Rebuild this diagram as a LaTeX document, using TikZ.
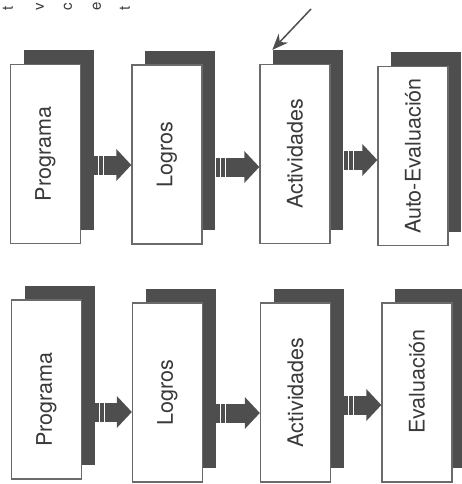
\documentclass[tikz,border=0pt]{standalone}
\usepackage{fontspec}
\setmainfont{TeX Gyre Heros}
\usetikzlibrary{arrows.meta,shadows}

\definecolor{boxline}{HTML}{6A6A6A}
\definecolor{shade}{HTML}{4E4E4E}
\definecolor{ink}{HTML}{3A3A3A}

% block arrow from the shadow of #1 to the card #2
\newcommand{\flowarrow}[4]{%
  \path ([xshift=13pt,yshift=#3pt]#1.east) coordinate (fs);
  \draw[flow] (fs) -- ([yshift=#4pt]#2.west);
  \foreach \s in {4.5,9.5}
    \draw[white, line width=1.2pt] ([xshift=\s pt,yshift=9.5pt]fs) -- ([xshift=\s pt,yshift=-9.5pt]fs);
}

\begin{document}
\begin{tikzpicture}[x=1pt,y=-1pt,
	card/.style={draw=boxline, line width=1.3pt, fill=white, inner sep=0pt,
		minimum width=70pt, minimum height=179pt, text=ink,
		font=\fontsize{21.5}{24}\selectfont,
		general shadow={fill=shade, shadow xshift=13pt, shadow yshift=14pt}},
	flow/.style={draw=shade, line width=19pt, -{Triangle[length=15pt,width=31pt]}},
	pointer/.style={draw=shade, line width=1.5pt, -{Stealth[length=16pt,width=13pt]}}]
	
	\useasboundingbox (0,0) rectangle (461,484);
	
	% letters at the top edge
	\foreach \x/\c in {8/t,40/v,68/c,97/e,125/t}
	{
		\node[rotate=90, anchor=west, inner sep=0pt, text=ink, font=\fontsize{15}{18}\selectfont] (top\x) at (\x,11) {\c};
	}
	
	% upper row
	\foreach \n/\x/\y/\t in {tp/45.5/154/Programa, tl/167/154.5/Logros, ta/295/154/Actividades, te/413/156/Auto-Evaluación}
	{
		\node[card] (\n) at (\x,\y) {\rotatebox{90}{\t}};
	}
	\flowarrow{tp}{tl}{-11}{-10.5}
	\flowarrow{tl}{ta}{-12.5}{-13}
	\flowarrow{ta}{te}{-6}{-4}
	
	\coordinate (hint) at (311,9);
	\draw[pointer] (hint) -- ([xshift=13pt,yshift=14pt]ta.north west);
	
	% lower row
	\foreach \n/\x/\y/\t in {bp/46.5/389.5/Programa\kern20pt, bl/167.5/392.5/Logros, ba/295.5/392.5/Actividades, be/417/392.5/\kern22pt Evaluación}
	{
		\node[card] (\n) at (\x,\y) {\rotatebox{90}{\t}};
	}
	\flowarrow{bp}{bl}{-22.5}{-19.5}
	\flowarrow{bl}{ba}{-20.5}{-20.5}
	\flowarrow{ba}{be}{-12.5}{-12.5}
\end{tikzpicture}
\end{document}
